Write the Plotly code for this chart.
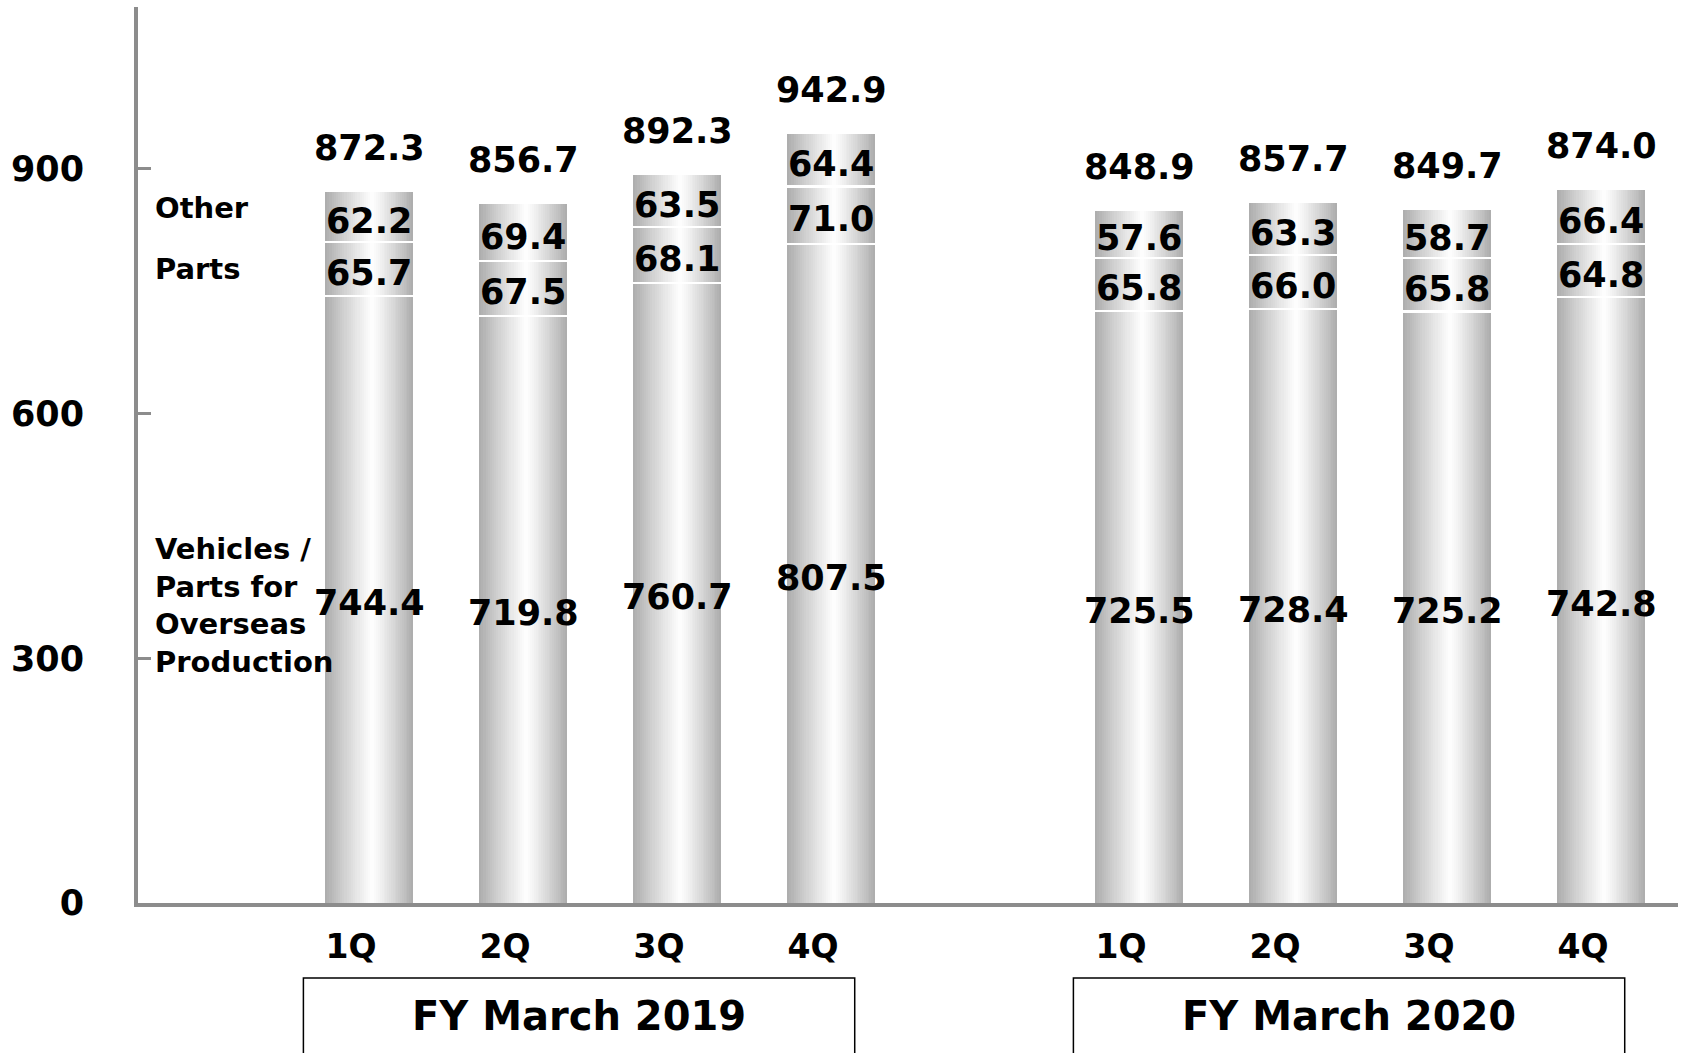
import plotly.graph_objects as go

# ---------------- data ----------------
quarters = ["1Q", "2Q", "3Q", "4Q"]
fiscal_years = ["FY March 2019", "FY March 2020"]
vehicles = [744.4, 719.8, 760.7, 807.5, 725.5, 728.4, 725.2, 742.8]
parts = [65.7, 67.5, 68.1, 71.0, 65.8, 66.0, 65.8, 64.8]
other = [62.2, 69.4, 63.5, 64.4, 57.6, 63.3, 58.7, 66.4]
totals = [872.3, 856.7, 892.3, 942.9, 848.9, 857.7, 849.7, 874.0]
segment_names = ["Other", "Parts", "Vehicles /<br>Parts for<br>Overseas<br>Production"]
y_ticks = [0, 300, 600, 900]

# ---------------- layout helpers ----------------
FONT = "DejaVu Sans"
GROUP_GAP = 1  # empty slot between fiscal years
x_pos = [g * (len(quarters) + GROUP_GAP) + q for g in range(len(fiscal_years)) for q in range(len(quarters))]
x_labels = [quarters[q] for g in range(len(fiscal_years)) for q in range(len(quarters))]
heights = [v + p + o for v, p, o in zip(vehicles, parts, other)]

BAR_W = 0.571
N_STEPS = 22
EDGE_GRAY = 174

fig = go.Figure()

# gradient bars (horizontal metallic look) via nested, narrowing overlay bars
for k in range(N_STEPS):
    frac = 1 - k / N_STEPS
    w = BAR_W * frac
    g = int(round(255 - (255 - EDGE_GRAY) * frac ** 1.15))
    shift = 0.04 * BAR_W * (1 - frac)
    fig.add_trace(go.Bar(
        x=x_pos, y=heights, width=w, offset=-w / 2 + shift,
        marker=dict(color=f"rgb({g},{g},{g})", line=dict(width=0)),
        hoverinfo="skip", showlegend=False,
    ))

# white separators between stacked segments
GAP = 2.6
b1 = vehicles
b2 = [v + p for v, p in zip(vehicles, parts)]
for bounds in (b1, b2):
    fig.add_trace(go.Bar(
        x=x_pos, y=[GAP] * len(x_pos), base=[b - GAP / 2 for b in bounds],
        width=BAR_W + 0.02, marker=dict(color="white", line=dict(width=0)),
        hoverinfo="skip", showlegend=False,
    ))

annotations = []

# segment value labels
mid_v = [v / 2 for v in vehicles]
mid_p = [v + p / 2 for v, p in zip(vehicles, parts)]
mid_o = [v + p + o / 2 for v, p, o in zip(vehicles, parts, other)]
for mids, vals in ((mid_v, vehicles), (mid_p, parts), (mid_o, other)):
    for x, m, v in zip(x_pos, mids, vals):
        annotations.append(dict(
            x=x, y=m, xref="x", yref="y", text=f"{v:.1f}", showarrow=False,
            yanchor="middle", xanchor="center", yshift=-4,
            font=dict(family=FONT, size=35, color="black", weight="bold"),
        ))

# totals above bars
for x, h, tot in zip(x_pos, heights, totals):
    annotations.append(dict(
        x=x, y=h, xref="x", yref="y", text=f"{tot:.1f}", showarrow=False,
        yanchor="middle", yshift=44,
        font=dict(family=FONT, size=35, color="black", weight="bold"),
    ))

# segment names beside first bar
name_y = [mid_o[0], mid_p[0], mid_v[0]]
name_shift = [9, 0, -6]
for name, yv, ys in zip(segment_names, name_y, name_shift):
    annotations.append(dict(
        x=x_pos[0] - 1.4, y=yv, xref="x", yref="y", text=name, showarrow=False,
        xanchor="left", yanchor="middle", align="left", yshift=ys,
        font=dict(family=FONT, size=29, color="black", weight="bold"),
    ))

# fiscal-year boxes beneath the axis
shapes = []
nq = len(quarters)
for gi, fy in enumerate(fiscal_years):
    grp = x_pos[gi * nq:(gi + 1) * nq]
    gc = (grp[0] + grp[-1]) / 2 - 0.136
    half = 1.79
    shapes.append(dict(
        type="rect", xref="x", yref="paper", x0=gc - half, x1=gc + half,
        y0=-0.0837, y1=-0.25, line=dict(color="black", width=1.5),
        fillcolor="rgba(0,0,0,0)", layer="above",
    ))
    annotations.append(dict(
        x=gc, y=-0.126, xref="x", yref="paper", text=fy, showarrow=False,
        yanchor="middle", xanchor="center",
        font=dict(family=FONT, size=40, color="black", weight="bold"),
    ))

fig.update_layout(
    width=1681, height=1053,
    margin=dict(l=138, r=3, t=7, b=150),
    paper_bgcolor="white", plot_bgcolor="white",
    barmode="overlay", bargap=0,
    showlegend=False,
    annotations=annotations, shapes=shapes,
    font=dict(family=FONT, color="black"),
)
fig.update_xaxes(
    range=[-1.5, 8.5], tickvals=x_pos, ticktext=x_labels,
    showline=True, linecolor="#8c8c8c", linewidth=4,
    ticks="", showgrid=False, zeroline=False,
    tickfont=dict(family=FONT, size=33, color="black", weight="bold"),
    ticklabelshift=-18, ticklabelstandoff=11,
)
fig.update_yaxes(
    range=[0, 1098.6], tickvals=y_ticks, ticktext=[str(v) for v in y_ticks],
    showline=True, linecolor="#8c8c8c", linewidth=4,
    ticks="inside", ticklen=13, tickwidth=3, tickcolor="#8c8c8c",
    showgrid=False, zeroline=False,
    tickfont=dict(family=FONT, size=35, color="black", weight="bold"),
    ticklabelstandoff=43,
)

fig.write_html("out.html")
